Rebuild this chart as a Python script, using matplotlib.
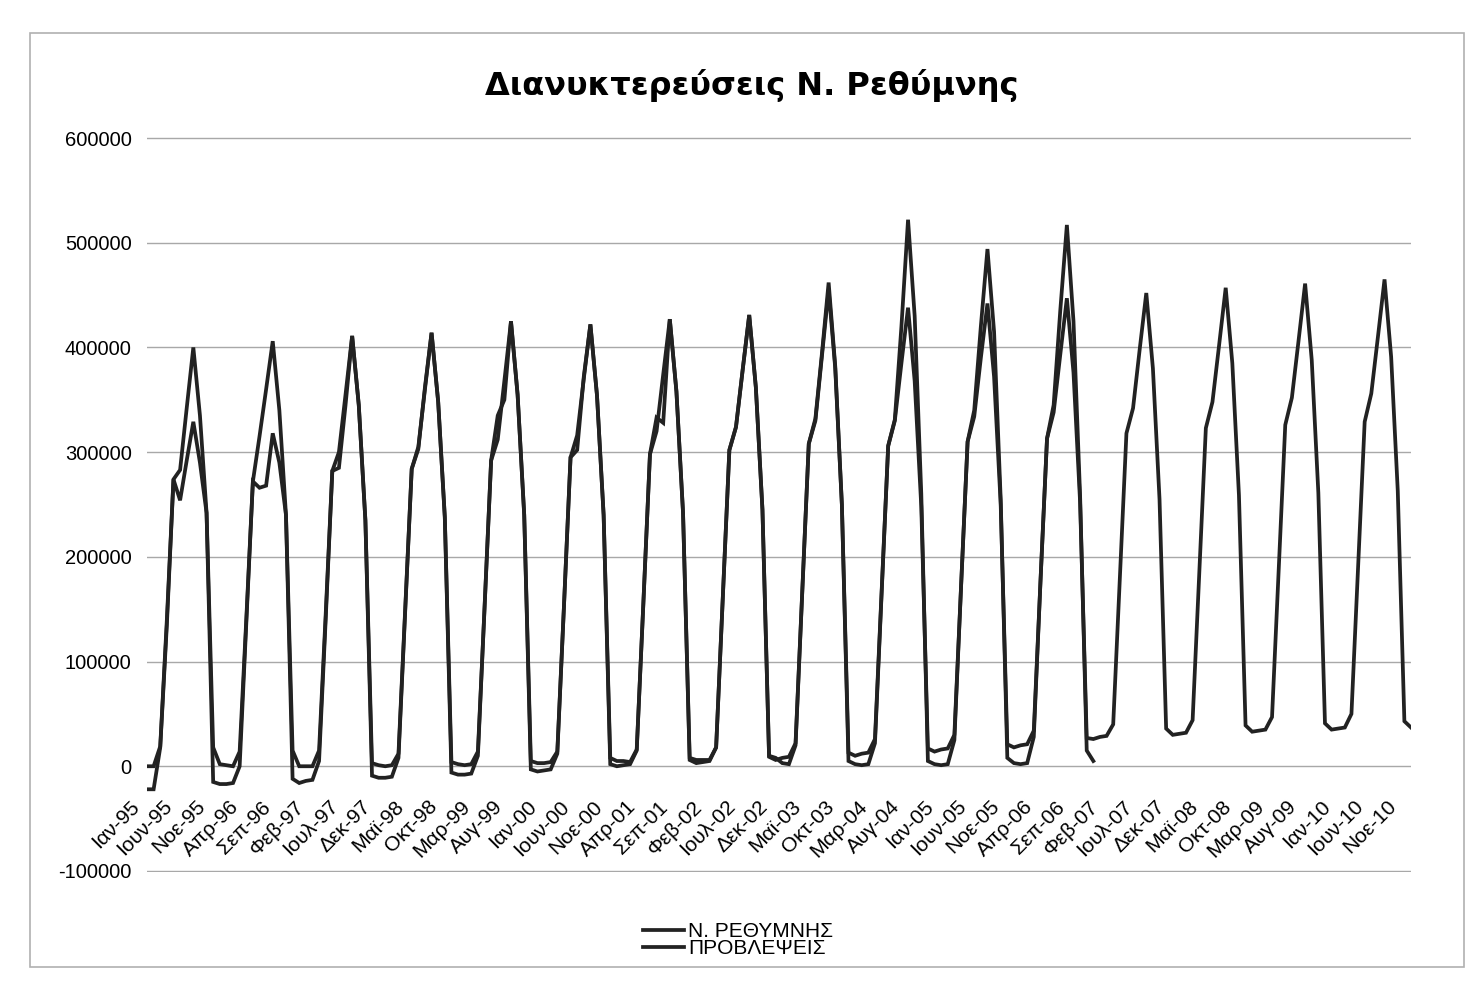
import numpy as np
import matplotlib
matplotlib.use("Agg")
import matplotlib.pyplot as plt
from matplotlib.patches import Rectangle
from matplotlib.transforms import ScaledTranslation

# ---------------- data (monthly, Jan-95 ... Dec-10) ----------------
tick_labels = ["Ιαν-95", "Ιουν-95", "Νοε-95", "Απρ-96", "Σεπ-96", "Φεβ-97", "Ιουλ-97",
               "Δεκ-97", "Μαϊ-98", "Οκτ-98", "Μαρ-99", "Αυγ-99", "Ιαν-00", "Ιουν-00",
               "Νοε-00", "Απρ-01", "Σεπ-01", "Φεβ-02", "Ιουλ-02", "Δεκ-02", "Μαϊ-03",
               "Οκτ-03", "Μαρ-04", "Αυγ-04", "Ιαν-05", "Ιουν-05", "Νοε-05", "Απρ-06",
               "Σεπ-06", "Φεβ-07", "Ιουλ-07", "Δεκ-07", "Μαϊ-08", "Οκτ-08", "Μαρ-09",
               "Αυγ-09", "Ιαν-10", "Ιουν-10", "Νοε-10"]

# Ν. ΡΕΘΥΜΝΗΣ (actual), one row per year 1995-2006, Jan..Dec
actual_1995 = [0, 0, 19000, 140000, 274000, 254000, 292000, 329000, 290000, 242000, 18000, 2000]
actual_1996 = [1000, 0, 14000, 140000, 272000, 266000, 268000, 318000, 290000, 240000, 15000, 0]
actual_1997 = [0, 0, 15000, 145000, 282000, 285000, 345000, 411000, 345000, 235000, 3000, 1000]
actual_1998 = [0, 1000, 12000, 148000, 284000, 303000, 362000, 414000, 348000, 238000, 4000, 2000]
actual_1999 = [1000, 2000, 14000, 150000, 292000, 335000, 350000, 425000, 355000, 240000, 5000, 3000]
actual_2000 = [3000, 4000, 14000, 152000, 295000, 302000, 372000, 422000, 354000, 240000, 8000, 5000]
actual_2001 = [5000, 4000, 16000, 155000, 298000, 333000, 328000, 427000, 358000, 242000, 8000, 6000]
actual_2002 = [6000, 6000, 18000, 160000, 302000, 324000, 378000, 431000, 362000, 245000, 10000, 8000]
actual_2003 = [3000, 2000, 20000, 165000, 308000, 332000, 395000, 462000, 382000, 250000, 5000, 2000]
actual_2004 = [1000, 2000, 22000, 165000, 306000, 331000, 420000, 522000, 430000, 260000, 5000, 2000]
actual_2005 = [1000, 2000, 25000, 170000, 310000, 340000, 420000, 494000, 415000, 255000, 8000, 3000]
actual_2006 = [2000, 3000, 28000, 175000, 313000, 345000, 435000, 517000, 425000, 258000, 15000, 5000]

# ΠΡΟΒΛΕΨΕΙΣ (forecast), one row per year 1995-2010, Jan..Dec
fc_1995 = [-22000, -22000, 18000, 135000, 274000, 283000, 342000, 400000, 335000, 242000, -15000, -17000]
fc_1996 = [-17000, -16000, 0, 135000, 272000, 315000, 360000, 406000, 340000, 240000, -12000, -16000]
fc_1997 = [-14000, -13000, 5000, 140000, 282000, 300000, 355000, 411000, 345000, 235000, -9000, -11000]
fc_1998 = [-11000, -10000, 8000, 145000, 284000, 305000, 360000, 414000, 348000, 238000, -6000, -8000]
fc_1999 = [-8000, -7000, 10000, 150000, 292000, 312000, 368000, 425000, 355000, 240000, -3000, -5000]
fc_2000 = [-4000, -3000, 12000, 152000, 295000, 316000, 370000, 422000, 354000, 240000, 2000, 0]
fc_2001 = [1000, 2000, 15000, 155000, 298000, 320000, 374000, 427000, 358000, 242000, 6000, 3000]
fc_2002 = [4000, 5000, 18000, 160000, 302000, 324000, 378000, 431000, 362000, 245000, 9000, 6000]
fc_2003 = [8000, 9000, 22000, 165000, 308000, 330000, 392000, 455000, 380000, 250000, 13000, 10000]
fc_2004 = [12000, 13000, 26000, 165000, 306000, 330000, 385000, 438000, 368000, 248000, 17000, 14000]
fc_2005 = [16000, 17000, 30000, 170000, 310000, 334000, 390000, 442000, 372000, 250000, 21000, 18000]
fc_2006 = [20000, 21000, 34000, 175000, 313000, 338000, 393000, 447000, 376000, 252000, 27000, 26000]
fc_2007 = [28000, 29000, 40000, 180000, 318000, 342000, 398000, 452000, 380000, 255000, 36000, 30000]
fc_2008 = [31000, 32000, 44000, 184000, 323000, 348000, 402000, 457000, 385000, 259000, 39000, 33000]
fc_2009 = [34000, 35000, 47000, 187000, 326000, 352000, 406000, 461000, 388000, 261000, 41000, 35000]
fc_2010 = [36000, 37000, 50000, 190000, 329000, 356000, 410000, 465000, 391000, 263000, 43000, 37000]

actual = (actual_1995 + actual_1996 + actual_1997 + actual_1998 + actual_1999 + actual_2000 +
          actual_2001 + actual_2002 + actual_2003 + actual_2004 + actual_2005 + actual_2006)
forecast = (fc_1995 + fc_1996 + fc_1997 + fc_1998 + fc_1999 + fc_2000 + fc_2001 + fc_2002 +
            fc_2003 + fc_2004 + fc_2005 + fc_2006 + fc_2007 + fc_2008 + fc_2009 + fc_2010)

y_ticks = [-100000, 0, 100000, 200000, 300000, 400000, 500000, 600000]

# ---------------- figure ----------------
W, H = 1468, 991
fig = plt.figure(figsize=(W / 100, H / 100), dpi=100)
fig.patch.set_facecolor("white")

# chart-area border
fig.add_artist(Rectangle((30 / W, 1 - 967 / H), (1464 - 30) / W, (967 - 33) / H,
                         transform=fig.transFigure, fill=False, edgecolor="#b0b0b0", lw=1.2))

ax_left, ax_right = 147 / W, 1411 / W
ax_top, ax_bot = 1 - 137 / H, 1 - 872 / H
ax = fig.add_axes([ax_left, ax_bot, ax_right - ax_left, ax_top - ax_bot])
ax.patch.set_alpha(0)

x_act = np.arange(len(actual))
x_fc = np.arange(len(forecast))
ax.plot(x_act, actual, color="#222222", lw=2.7, solid_joinstyle="miter", label="Ν. ΡΕΘΥΜΝΗΣ")
ax.plot(x_fc, forecast, color="#222222", lw=2.7, solid_joinstyle="miter", label="ΠΡΟΒΛΕΨΕΙΣ")

ax.set_xlim(0, len(forecast) - 1)
ax.set_ylim(-101000, 601000)
ax.set_yticks(y_ticks)
ax.set_yticklabels([str(v) for v in y_ticks], fontsize=14.5, family="Liberation Sans")
ax.grid(axis="y", color="#a8a8a8", lw=1.0)
ax.set_axisbelow(True)
for s in ax.spines.values():
    s.set_visible(False)
ax.spines["bottom"].set_position(("data", 0))

ax.set_xticks(np.arange(0, 5 * len(tick_labels), 5))
ax.set_xticklabels(tick_labels, rotation=45, ha="right", fontsize=15, family="Liberation Sans")
ax.tick_params(axis="x", length=0, pad=22)
ax.tick_params(axis="y", length=0, pad=11)
off = ScaledTranslation(-4 / 100, 0, fig.dpi_scale_trans)
for lbl in ax.get_xticklabels():
    lbl.set_transform(lbl.get_transform() + off)

fig.text(752 / W, 1 - 85 / H, "Διανυκτερεύσεις Ν. Ρεθύμνης", ha="center", va="center",
         fontsize=23, fontweight="bold", family="DejaVu Sans")

leg = fig.legend(loc="center", bbox_to_anchor=(738 / W, 1 - 940 / H), frameon=False,
                 prop={"family": "Liberation Sans", "size": 15}, handlelength=2.0,
                 handletextpad=0.2, labelspacing=-0.1, borderpad=0)

fig.savefig("out.png", dpi=100, facecolor="white")
